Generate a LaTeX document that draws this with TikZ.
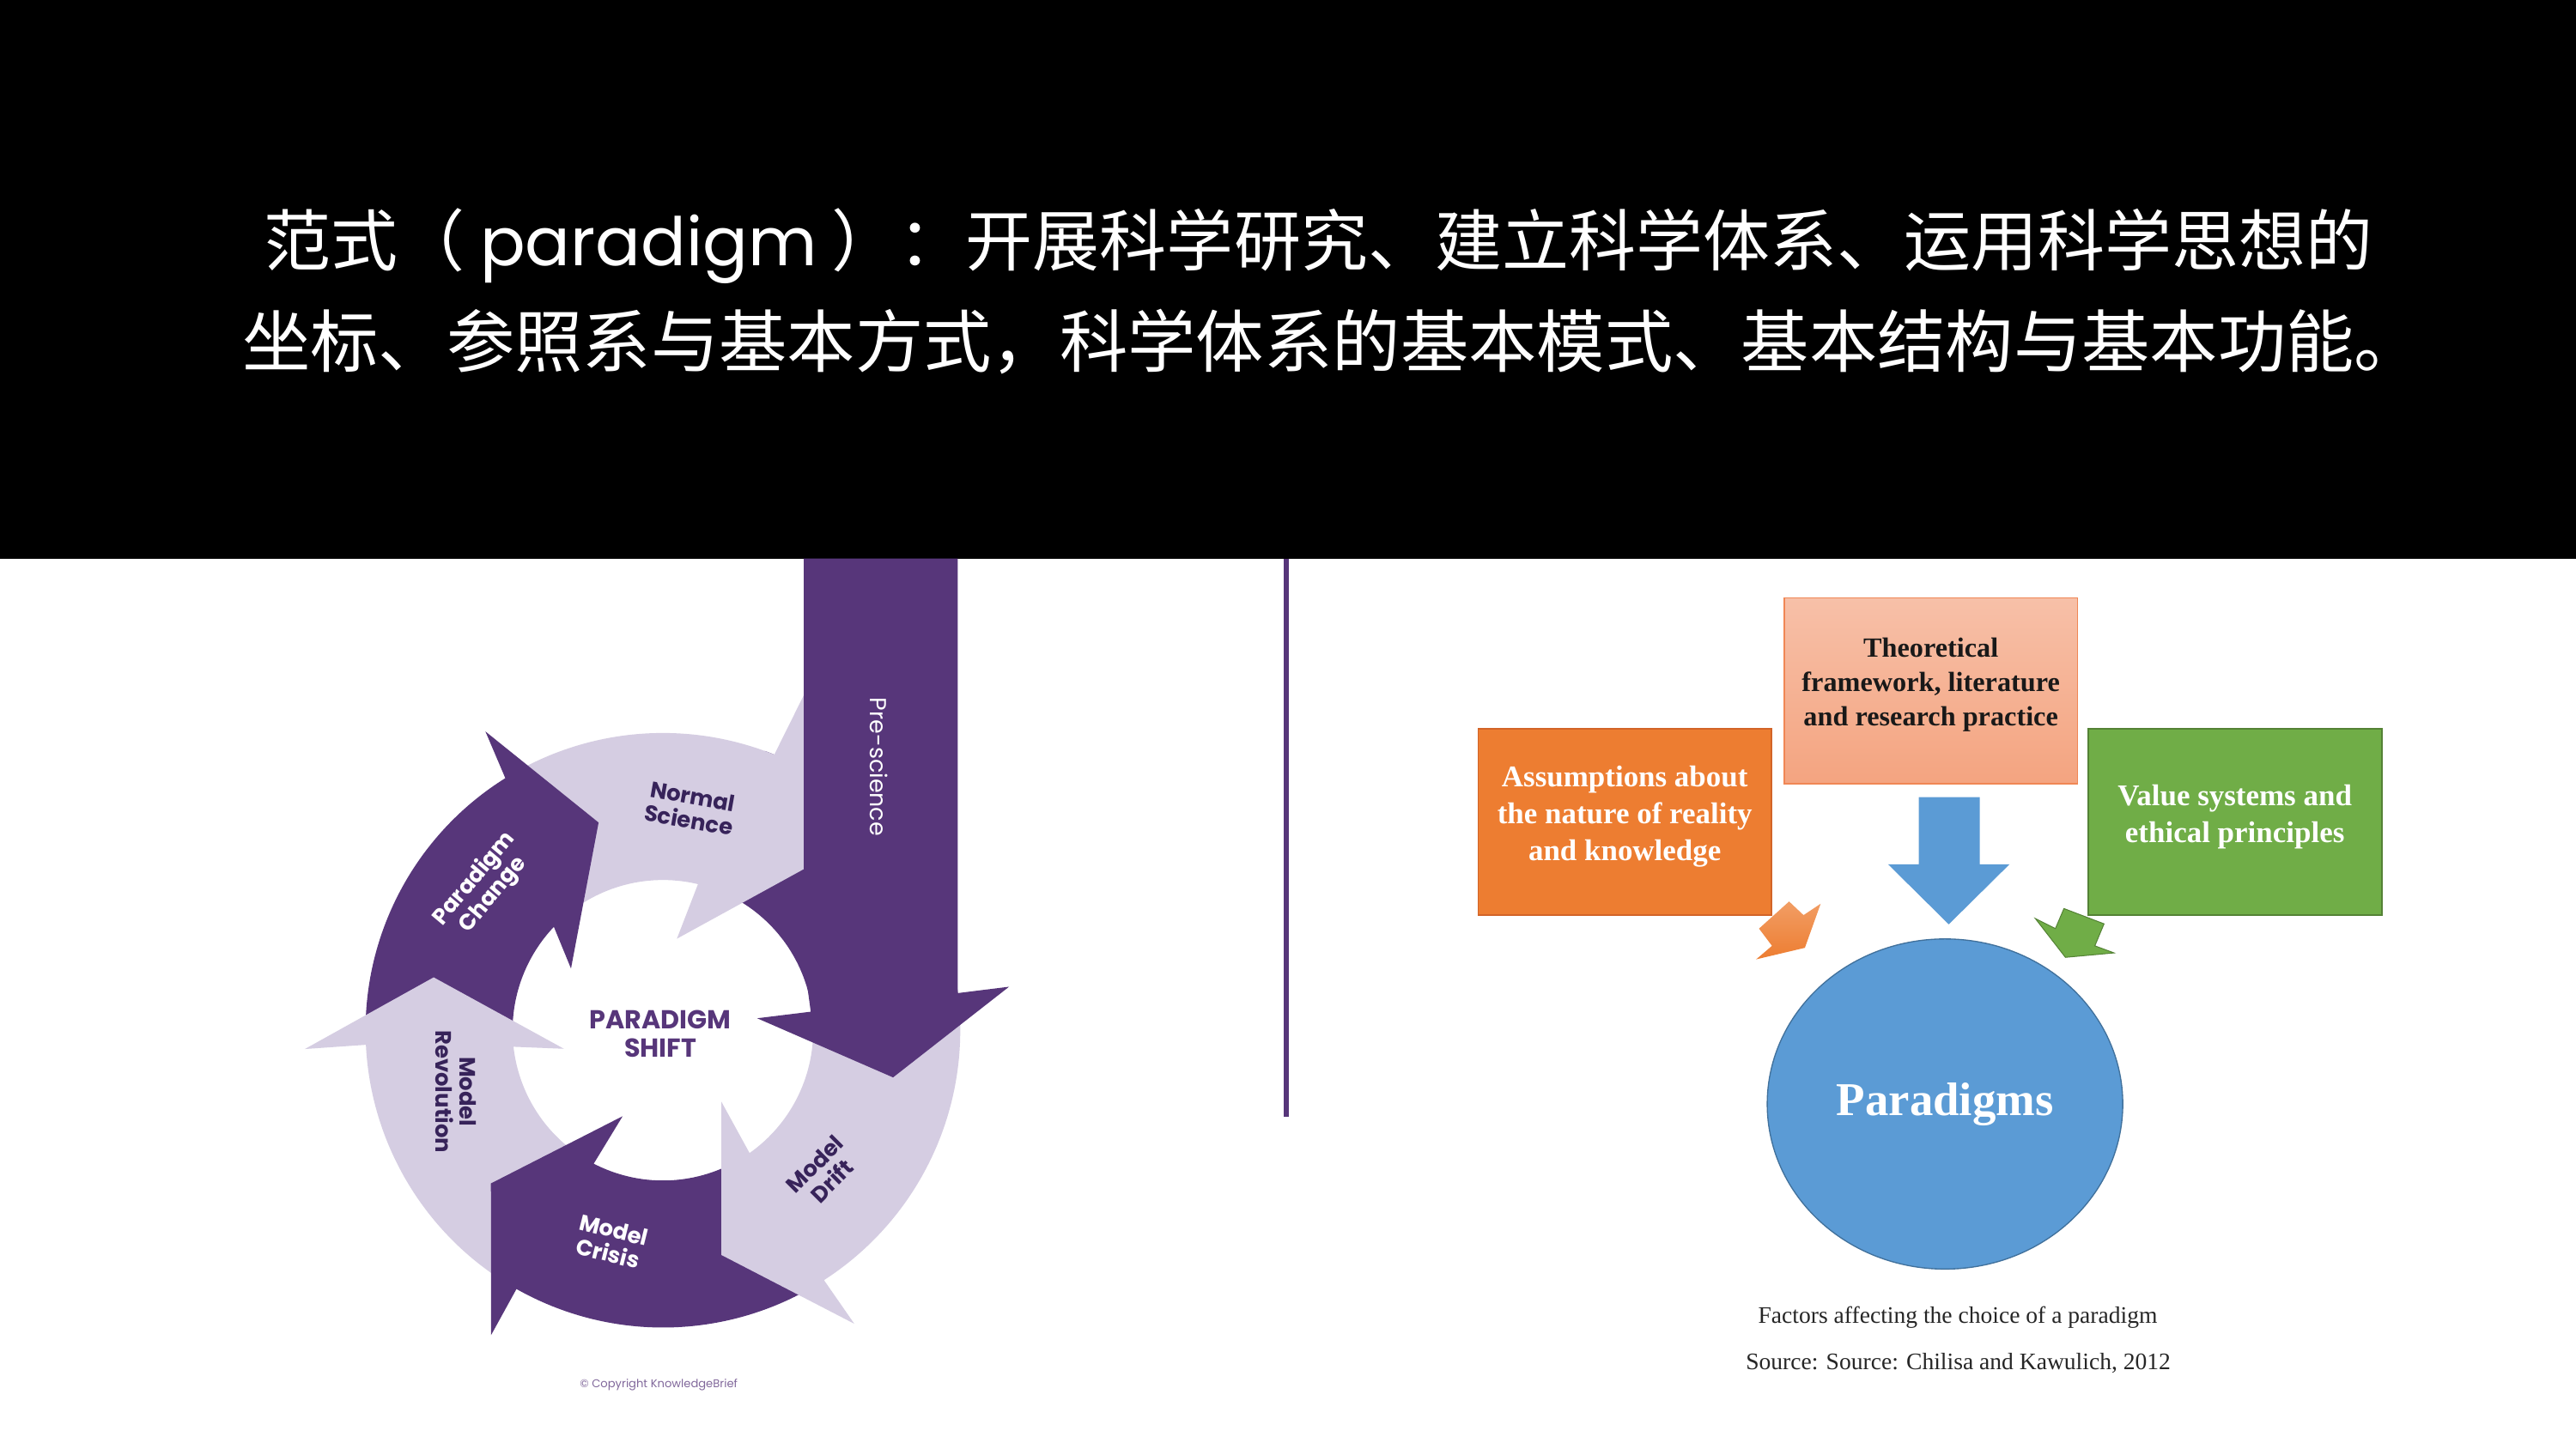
\documentclass[tikz,border=0pt]{standalone}
\usepackage{fontspec}
\usetikzlibrary{shapes.geometric}
\newfontfamily\cjk{Noto Sans CJK SC}
\newfontfamily\pop{Poppins}
\newfontfamily\tnr{Liberation Serif}
\definecolor{kbdark}{RGB}{87,54,122}
\definecolor{kblight}{RGB}{213,205,226}
\definecolor{kbtext}{RGB}{55,35,90}
\definecolor{salmontop}{RGB}{247,192,168}
\definecolor{salmonbot}{RGB}{244,164,128}
\definecolor{salmonedge}{RGB}{240,135,85}
\definecolor{orng}{RGB}{237,125,49}
\definecolor{orngedge}{RGB}{210,100,40}
\definecolor{grn}{RGB}{112,173,71}
\definecolor{grnedge}{RGB}{84,130,53}
\definecolor{blu}{RGB}{91,155,213}
\definecolor{bluedge}{RGB}{65,113,156}

\begin{document}
\begin{tikzpicture}[
  x=0.2mm, y=-0.2mm,
  dark/.style={fill=kbdark},
  light/.style={fill=kblight},
  ringlbl/.style={font=\pop\bfseries\fontsize{7.7}{8.4}\selectfont, align=center, inner sep=0pt},
  ttl/.style={text=white, font=\cjk\fontsize{23.2}{28}\selectfont, inner sep=0pt},
  box/.style={draw, line width=0.5pt, minimum width=35.72mm, minimum height=22.64mm, inner sep=0pt},
  boxtxt/.style={font=\tnr\bfseries\fontsize{10.4}{12.8}\selectfont, align=center, inner sep=0pt},
  note/.style={font=\tnr\fontsize{8.2}{10}\selectfont, text=black!85, inner sep=0pt}
]
\useasboundingbox (0,0) rectangle (1568,882);
\fill[white] (0,0) rectangle (1568,882);
\fill[black] (0,0) rectangle (1568,340);

\node[ttl] (line1) at (802.5,150) {范式（ {\pop paradigm} ）：开展科学研究、建立科学体系、运用科学思想的};
\node[ttl, font=\cjk\fontsize{23.6}{28}\selectfont] (line2) at (811,208) {坐标、参照系与基本方式，科学体系的基本模式、基本结构与基本功能。};

\begin{scope}[shift={(403.5,627.3)}, y=0.2mm]
\fill[dark] (70:181) arc[start angle=70, end angle=5, radius=181] -- (5:91.5) arc[start angle=5, end angle=70, radius=91.5] -- cycle;
\fill[light] (119:181) arc[start angle=119, end angle=68, radius=181] -- (67.2:221.1) -- (47.9:136.5) -- (81.3:56.4) -- (76.5:91.5) arc[start angle=76.5, end angle=128, radius=91.5] -- cycle;
\fill[dark] (180:181) arc[start angle=180, end angle=122, radius=181] -- (120.7:211.6) -- (107.2:132.4) -- (146.1:67.4) -- (136.5:91.5) arc[start angle=136.5, end angle=181, radius=91.5] -- cycle;
\fill[light] (238:181) arc[start angle=238, end angle=182.8, radius=181] -- (183:218.2) -- (167:143.2) -- (190.6:61.3) -- (186.3:91.5) arc[start angle=186.3, end angle=237, radius=91.5] -- cycle;
\fill[dark] (300:181) arc[start angle=300, end angle=240.5, radius=181] -- (240.6:213.1) -- (221.7:140.2) -- (244.9:57.8) -- (242.6:91.5) arc[start angle=242.6, end angle=300, radius=91.5] -- cycle;
\fill[light] (4:181) arc[start angle=4, end angle=-57.2, radius=181] -- (-56.9:213.3) -- (-75.4:141.4) -- (-50.7:56.2) -- (-54.8:91.5) arc[start angle=-54.8, end angle=3, radius=91.5] -- cycle;
\end{scope}
\fill[dark] (489.3,340) -- (582.9,340) -- (582.9,604.7) -- (614.2,600.8) -- (543.6,656) -- (460.9,620) -- (493.5,616) -- (489.3,585) -- cycle;

\node[ringlbl, text=kbtext, rotate=-10] (normal) at (420.5,492) {Normal\\Science};
\node[ringlbl, text=white, font=\pop\fontsize{8}{8}\selectfont, rotate=-90] (pre) at (535,467) {Pre-science};
\node[ringlbl, text=white, rotate=50] (change) at (294.5,540) {Paradigm\\Change};
\node[ringlbl, text=kbtext, rotate=-90] (revol) at (277.5,664.7) {Model\\Revolution};
\node[ringlbl, text=white, rotate=-14] (crisis) at (372,756) {Model\\Crisis};
\node[ringlbl, text=kbtext, rotate=45] (drift) at (501,714) {Model\\Drift};
\node[ringlbl, text=kbdark, font=\pop\bfseries\fontsize{9}{9.9}\selectfont] (shift) at (402,629.5) {PARADIGM\\SHIFT};
\node[text=kbdark!75, font=\pop\fontsize{3.9}{4}\selectfont, inner sep=0pt] (copy) at (401,843) {\textcopyright{} Copyright KnowledgeBrief};

\draw[kbdark, line width=0.6mm] (783,340) -- (783,680);

\node[box, draw=salmonedge, top color=salmontop, bottom color=salmonbot] (theory) at (1175.3,420.7) {};
\node[boxtxt, text=black!90, font=\tnr\bfseries\fontsize{9.6}{11.9}\selectfont] (theorytxt) at (1175.3,417) {Theoretical\\framework, literature\\and research practice};
\node[box, draw=orngedge, fill=orng] (assume) at (989,500.4) {};
\node[boxtxt, text=white] (assumetxt) at (989,497) {Assumptions about\\the nature of reality\\and knowledge};
\node[box, draw=grnedge, fill=grn] (value) at (1360.5,500.4) {};
\node[boxtxt, text=white] (valuetxt) at (1360.3,497.5) {Value systems and\\ethical principles};

\fill[blu] (1168,485.3) -- (1205,485.3) -- (1205,526.2) -- (1223.2,526.2) -- (1186.2,562.8) -- (1149.2,526.2) -- (1168,526.2) -- cycle;
\shade[top color=orng!75!white, bottom color=orng] (1089,548.9) -- (1097.8,557.2) -- (1108.2,550.3) -- (1098.6,577.1) -- (1069,584.1) -- (1078.6,575.9) -- (1070.7,565.4) -- cycle;
\filldraw[fill=grn, draw=grnedge, line width=0.3pt] (1256.3,553.2) -- (1280.7,562.5) -- (1275.1,575.9) -- (1286.8,580.2) -- (1257.2,582.9) -- (1238.9,559.3) -- (1251.1,565.4) -- cycle;

\node[ellipse, draw=bluedge, fill=blu, minimum width=43.28mm, minimum height=40.2mm, text=white, font=\tnr\bfseries\fontsize{16.3}{18}\selectfont] (para) at (1183.9,672.2) {Paradigms};
\node[note] (cap) at (1191.7,802) {Factors affecting the choice of a paradigm};
\node[note] (src) at (1192,830) {Source: Source: Chilisa and Kawulich, 2012};
\end{tikzpicture}
\end{document}
